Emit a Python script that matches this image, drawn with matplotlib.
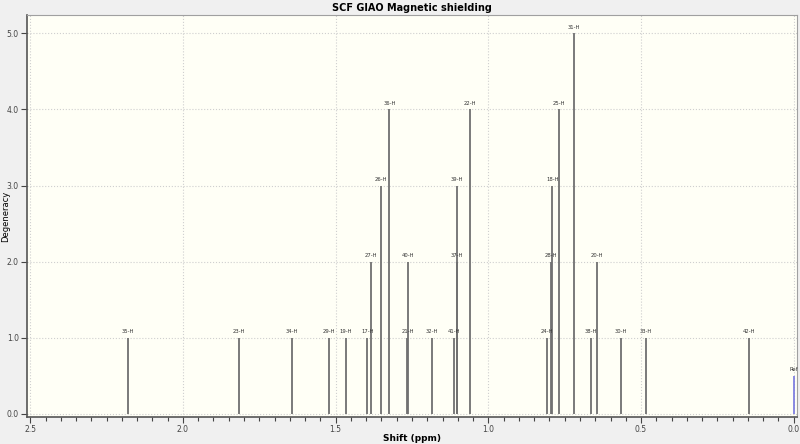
import numpy as np
import matplotlib
matplotlib.use("Agg")
import matplotlib.pyplot as plt
from matplotlib.ticker import MultipleLocator, FormatStrFormatter

# peaks: label, shift (ppm), degeneracy
labels = ["35-H", "23-H", "34-H", "29-H", "19-H", "17-H", "27-H", "26-H", "36-H",
          "21-H", "40-H", "32-H", "41-H", "37-H", "39-H", "22-H", "24-H", "28-H",
          "18-H", "25-H", "31-H", "38-H", "20-H", "30-H", "33-H", "42-H"]
shifts = [2.179, 1.816, 1.643, 1.522, 1.466, 1.396, 1.385, 1.351, 1.324,
          1.265, 1.262, 1.185, 1.113, 1.104, 1.104, 1.059, 0.807, 0.796,
          0.791, 0.768, 0.719, 0.664, 0.645, 0.566, 0.484, 0.147]
degeneracy = [1, 1, 1, 1, 1, 1, 2, 3, 4,
              1, 2, 1, 1, 2, 3, 4, 1, 2,
              3, 4, 5, 1, 2, 1, 1, 1]
ref_shift = 0.0
ref_height = 0.5

fig = plt.figure(figsize=(8, 4.44), dpi=100, facecolor="#f0f0f0")
ax = fig.add_axes([0.034, 0.061, 0.962, 0.905])
ax.set_facecolor("#fffff6")

ax.vlines(shifts, 0, degeneracy, color="#707070", lw=1.3, zorder=3)
ax.vlines([ref_shift], 0, [ref_height], color="#8080e0", lw=1.3, zorder=3)

for lab, s, d in zip(labels, shifts, degeneracy):
    ax.text(s, d + 0.05, lab, ha="center", va="bottom", fontsize=3.8, color="#333333")
ax.text(ref_shift, ref_height + 0.05, "Ref", ha="center", va="bottom", fontsize=3.8, color="#333333")

ax.set_xlim(2.51, -0.01)
ax.set_ylim(-0.04, 5.24)
ax.xaxis.set_major_locator(MultipleLocator(0.5))
ax.xaxis.set_minor_locator(MultipleLocator(0.05))
ax.yaxis.set_major_locator(MultipleLocator(1.0))
ax.xaxis.set_major_formatter(FormatStrFormatter("%.1f"))
ax.yaxis.set_major_formatter(FormatStrFormatter("%.1f"))
ax.tick_params(axis="both", labelsize=5.5, colors="#444444", width=0.8, pad=2)
ax.tick_params(axis="x", which="major", length=4)
ax.tick_params(axis="x", which="minor", length=3, width=0.8, color="#444444")
ax.tick_params(axis="y", length=4)

ax.grid(True, which="major", color="#cfcfcf", ls=":", lw=0.8)

for side in ["left", "bottom"]:
    ax.spines[side].set_color("#555555")
    ax.spines[side].set_linewidth(1.2)
for side in ["top", "right"]:
    ax.spines[side].set_color("#a0a0a0")
    ax.spines[side].set_linewidth(0.8)

ax.set_title("SCF GIAO Magnetic shielding", fontsize=7, fontweight="bold", pad=3)
ax.set_xlabel("Shift (ppm)", fontsize=6.5, fontweight="bold")
ax.xaxis.set_label_coords(0.5, -0.043)
ax.set_ylabel("Degeneracy", fontsize=6)
ax.yaxis.set_label_coords(-0.022, 0.5)

fig.savefig("out.png", dpi=100, facecolor=fig.get_facecolor())
